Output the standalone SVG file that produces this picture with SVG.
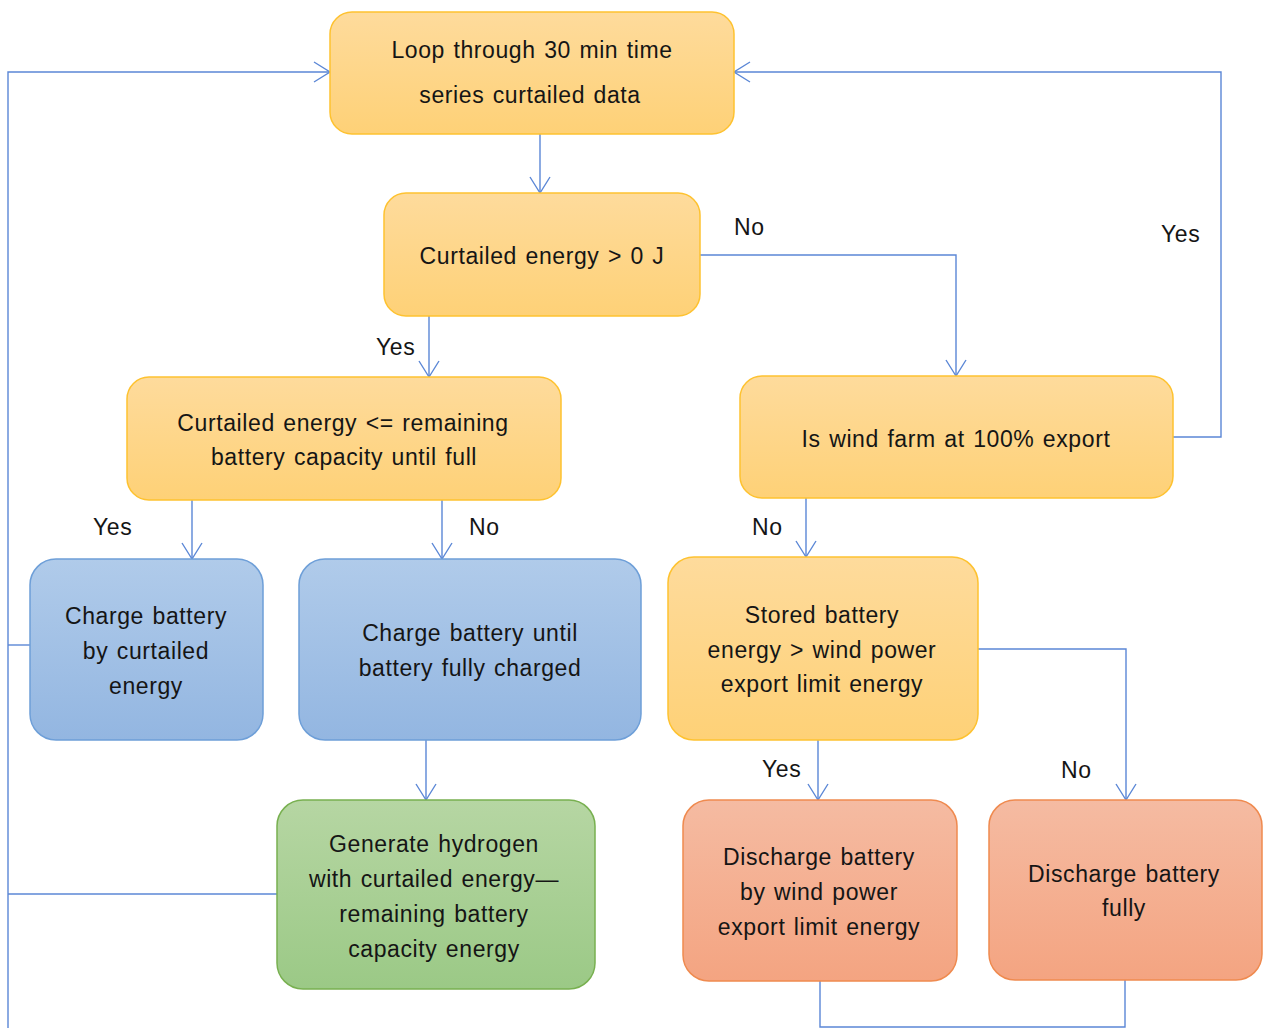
<svg xmlns="http://www.w3.org/2000/svg" width="1263" height="1028" viewBox="0 0 1263 1028">
<defs>
<linearGradient id="gy" x1="0" y1="0" x2="0" y2="1"><stop offset="0" stop-color="#fedb9c"/><stop offset="1" stop-color="#fed177"/></linearGradient>
<linearGradient id="gb" x1="0" y1="0" x2="0" y2="1"><stop offset="0" stop-color="#b0cbea"/><stop offset="1" stop-color="#93b6e1"/></linearGradient>
<linearGradient id="gg" x1="0" y1="0" x2="0" y2="1"><stop offset="0" stop-color="#b6d6a3"/><stop offset="1" stop-color="#9bc986"/></linearGradient>
<linearGradient id="go" x1="0" y1="0" x2="0" y2="1"><stop offset="0" stop-color="#f5bba2"/><stop offset="1" stop-color="#f4a481"/></linearGradient>
<marker id="ah" markerWidth="20" markerHeight="24" refX="17" refY="12" orient="auto" markerUnits="userSpaceOnUse">
<path d="M1,2 L17,12 L1,22" fill="none" stroke="#5b87d6" stroke-width="1.4"/>
</marker>
</defs>
<style>
text{font-family:"Liberation Sans",Arial,sans-serif;font-size:23px;fill:#151515;text-anchor:middle;letter-spacing:0.6px;word-spacing:1.5px}
.lbl{text-anchor:start}
.y{fill:url(#gy);stroke:#fec230;stroke-width:1.5}
.b{fill:url(#gb);stroke:#6e9fd8;stroke-width:1.5}
.g{fill:url(#gg);stroke:#78b050;stroke-width:1.5}
.o{fill:url(#go);stroke:#ef8a4f;stroke-width:1.5}
#connectors path{fill:none;stroke:#5b87d6;stroke-width:1.4}
</style>
<rect width="1263" height="1028" fill="#ffffff"/>
<g id="connectors">
<path d="M540,134 V193" marker-end="url(#ah)"/>
<path d="M700,255 H956 V376" marker-end="url(#ah)"/>
<path d="M429,316 V377" marker-end="url(#ah)"/>
<path d="M1173,437 H1221 V72 H734" marker-end="url(#ah)"/>
<path d="M8,1028 V72 H330" marker-end="url(#ah)"/>
<path d="M8,645 H30"/>
<path d="M8,894 H277"/>
<path d="M192,500 V559" marker-end="url(#ah)"/>
<path d="M442,500 V559" marker-end="url(#ah)"/>
<path d="M806,498 V557" marker-end="url(#ah)"/>
<path d="M426,740 V800" marker-end="url(#ah)"/>
<path d="M818,740 V800" marker-end="url(#ah)"/>
<path d="M978,649 H1126 V800" marker-end="url(#ah)"/>
<path d="M820,981 V1027 H1125 V980"/>
</g>
<g id="labels">
<text class="lbl" x="734" y="235">No</text>
<text class="lbl" x="1161" y="242">Yes</text>
<text class="lbl" x="376" y="355">Yes</text>
<text class="lbl" x="93" y="535">Yes</text>
<text class="lbl" x="469" y="535">No</text>
<text class="lbl" x="752" y="535">No</text>
<text class="lbl" x="762" y="777">Yes</text>
<text class="lbl" x="1061" y="778">No</text>
</g>
<g id="n1"><rect class="y" x="330" y="12" width="404" height="122" rx="22"/>
<text x="532" y="58">Loop through 30 min time</text><text x="530" y="103">series curtailed data</text></g>
<g id="n2"><rect class="y" x="384" y="193" width="316" height="123" rx="22"/>
<text x="542" y="264">Curtailed energy &gt; 0 J</text></g>
<g id="n3"><rect class="y" x="127" y="377" width="434" height="123" rx="22"/>
<text x="343" y="431">Curtailed energy &lt;= remaining</text><text x="344" y="465">battery capacity until full</text></g>
<g id="n4"><rect class="y" x="740" y="376" width="433" height="122" rx="22"/>
<text x="956" y="447">Is wind farm at 100% export</text></g>
<g id="n5"><rect class="b" x="30" y="559" width="233" height="181" rx="26"/>
<text x="146" y="624">Charge battery</text><text x="146" y="659">by curtailed</text><text x="146" y="694">energy</text></g>
<g id="n6"><rect class="b" x="299" y="559" width="342" height="181" rx="26"/>
<text x="470" y="641">Charge battery until</text><text x="470" y="676">battery fully charged</text></g>
<g id="n7"><rect class="y" x="668" y="557" width="310" height="183" rx="26"/>
<text x="822" y="623">Stored battery</text><text x="822" y="658">energy &gt; wind power</text><text x="822" y="692">export limit energy</text></g>
<g id="n8"><rect class="g" x="277" y="800" width="318" height="189" rx="26"/>
<text x="434" y="852">Generate hydrogen</text><text x="434" y="887">with curtailed energy—</text><text x="434" y="922">remaining battery</text><text x="434" y="957">capacity energy</text></g>
<g id="n9"><rect class="o" x="683" y="800" width="274" height="181" rx="26"/>
<text x="819" y="865">Discharge battery</text><text x="819" y="900">by wind power</text><text x="819" y="935">export limit energy</text></g>
<g id="n10"><rect class="o" x="989" y="800" width="273" height="180" rx="26"/>
<text x="1124" y="882">Discharge battery</text><text x="1124" y="916">fully</text></g>
</svg>
